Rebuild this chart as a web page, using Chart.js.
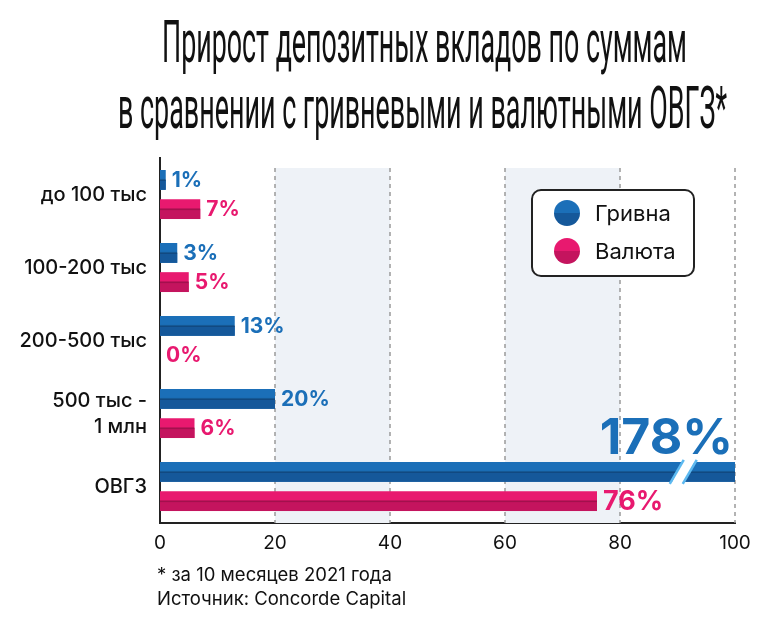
<!DOCTYPE html>
<html>
<head>
<meta charset="utf-8">
<script src="https://cdn.jsdelivr.net/npm/chart.js@4.4.1/dist/chart.umd.min.js"></script>
<style>
  html, body { margin: 0; padding: 0; background: #fff; }
  #wrap { width: 764px; height: 627px; }
</style>
</head>
<body>
<div id="wrap"><canvas id="report1" width="764" height="627"></canvas></div>
<script>
const categories = ['до 100 тыс', '100-200 тыс', '200-500 тыс', ['500 тыс -', '1 млн'], 'ОВГЗ'];
const seriesNames = ['Гривна', 'Валюта'];
const hryvnia = [1, 3, 13, 20, 178];
const currency = [7, 5, 0, 6, 76];
const xTicks = [0, 20, 40, 60, 80, 100];
const titleLines = ['Прирост депозитных вкладов по суммам', 'в сравнении с гривневыми и валютными ОВГЗ*'];
const footLines = ['* за 10 месяцев 2021 года', 'Источник: Concorde Capital'];

const BLUE = '#1b6fb8', BLUE_D = '#15589a';
const PINK = '#e8196f', PINK_D = '#c4145e';
const FONT = 'Inter, "Noto Sans", sans-serif';

// background bands + dashed grid
const bandsPlugin = {
  id: 'bands',
  beforeDatasetsDraw(chart) {
    const {ctx, chartArea: a, scales: {x}} = chart;
    const top = a.top + 10;
    ctx.save();
    ctx.fillStyle = '#eef2f7';
    [[20, 40], [60, 80]].forEach(([f, t]) => {
      const x0 = x.getPixelForValue(f), x1 = x.getPixelForValue(t);
      ctx.fillRect(x0, top, x1 - x0, a.bottom - top);
    });
    ctx.strokeStyle = '#9a9a9a';
    ctx.lineWidth = 1.5;
    ctx.setLineDash([4, 4]);
    xTicks.slice(1).forEach(v => {
      const px = x.getPixelForValue(v);
      ctx.beginPath();
      ctx.moveTo(px, top);
      ctx.lineTo(px, a.bottom);
      ctx.stroke();
    });
    ctx.restore();
  }
};

// two-tone bars, break mark, value labels
const barsPlugin = {
  id: 'barsDeco',
  afterDatasetsDraw(chart) {
    const {ctx, chartArea: a, scales: {x}} = chart;
    const darks = [BLUE_D, PINK_D];
    const cols = [BLUE, PINK];
    ctx.save();
    chart.data.datasets.forEach((ds, di) => {
      const meta = chart.getDatasetMeta(di);
      meta.data.forEach((bar, i) => {
        const p = bar.getProps(['x', 'y', 'base', 'height'], true);
        const xe = Math.min(p.x, a.right);
        const h = p.height;
        // darker lower half
        ctx.fillStyle = darks[di];
        ctx.fillRect(p.base, p.y, xe - p.base, h / 2);
        ctx.fillStyle = 'rgba(0,0,0,0.18)';
        ctx.fillRect(p.base, p.y - 1, xe - p.base, 2);

        const v = ds.data[i];
        ctx.fillStyle = cols[di];
        if (v > x.max) {
          // break mark
          const bx = x.getPixelForValue(91);
          const t = p.y - h / 2 - 4, b = p.y + h / 2 + 4;
          ctx.save();
          ctx.lineCap = 'butt';
          ctx.strokeStyle = '#fff';
          ctx.lineWidth = 11;
          ctx.beginPath(); ctx.moveTo(bx - 7, b); ctx.lineTo(bx + 7, t); ctx.stroke();
          ctx.strokeStyle = '#5db9f0';
          ctx.lineWidth = 2.5;
          [-6.5, 6.5].forEach(o => {
            ctx.beginPath(); ctx.moveTo(bx - 7 + o, b - 2); ctx.lineTo(bx + 7 + o, t + 2); ctx.stroke();
          });
          ctx.restore();
          ctx.fillStyle = cols[di];
          ctx.font = 'bold 50px ' + FONT;
          ctx.textAlign = 'right';
          ctx.textBaseline = 'alphabetic';
          ctx.fillText(v + '%', a.right - 2, p.y - h / 2 - 8);
        } else {
          const big = i === categories.length - 1;
          ctx.font = 'bold ' + (big ? 27 : 21) + 'px ' + FONT;
          ctx.textAlign = 'left';
          ctx.textBaseline = 'middle';
          ctx.fillText(v + '%', xe + 6, p.y + 1);
        }
      });
    });
    ctx.restore();
  }
};

// title, legend, footer
const textPlugin = {
  id: 'texts',
  afterDraw(chart) {
    const {ctx} = chart;
    ctx.save();
    // title, condensed
    ctx.fillStyle = '#111';
    ctx.textBaseline = 'alphabetic';
    ctx.textAlign = 'left';
    ctx.font = '400 60px Roboto, sans-serif';
    const boxes = [[162, 687, 62], [118, 727, 128]];
    titleLines.forEach((t, i) => {
      const [l, r, base] = boxes[i];
      const w = ctx.measureText(t).width;
      ctx.save();
      ctx.translate(l, base);
      ctx.scale((r - l) / w, 1);
      ctx.fillText(t, 0, 0);
      ctx.restore();
    });

    // legend
    const lx = 532, ly = 190, lw = 162, lh = 86;
    ctx.fillStyle = '#fff';
    ctx.strokeStyle = '#222';
    ctx.lineWidth = 2;
    ctx.beginPath();
    ctx.roundRect(lx, ly, lw, lh, 9);
    ctx.fill();
    ctx.stroke();
    const cols = [[BLUE, BLUE_D], [PINK, PINK_D]];
    seriesNames.forEach((n, i) => {
      const cy = ly + 23 + i * 38;
      ctx.save();
      ctx.beginPath();
      ctx.arc(lx + 35, cy, 13, 0, Math.PI * 2);
      ctx.clip();
      ctx.fillStyle = cols[i][0];
      ctx.fillRect(lx + 20, cy - 14, 30, 14);
      ctx.fillStyle = cols[i][1];
      ctx.fillRect(lx + 20, cy, 30, 14);
      ctx.restore();
      ctx.fillStyle = '#111';
      ctx.font = '400 22px ' + FONT;
      ctx.textBaseline = 'middle';
      ctx.fillText(n, lx + 63, cy + 1);
    });

    // footer
    ctx.fillStyle = '#111';
    ctx.font = '400 18.5px ' + FONT;
    ctx.textBaseline = 'alphabetic';
    ctx.fillText(footLines[0], 157, 581);
    ctx.fillText(footLines[1], 157, 605);
    ctx.restore();
  }
};

const ctx = document.getElementById('report1');

new Chart(ctx, {
  type: 'bar',
  data: {
    labels: categories,
    datasets: [
      { label: seriesNames[0], data: hryvnia, backgroundColor: BLUE },
      { label: seriesNames[1], data: currency, backgroundColor: PINK }
    ]
  },
  options: {
    indexAxis: 'y',
    responsive: false,
    animation: false,
    devicePixelRatio: 1,
    clip: 0,
    categoryPercentage: 0.8,
    barPercentage: 0.68,
    layout: { padding: { top: 158, right: 29, bottom: 74, left: 0 } },
    plugins: {
      legend: { display: false },
      tooltip: { enabled: false }
    },
    scales: {
      x: {
        min: 0,
        max: 100,
        afterFit: s => { s.height = 30; },
        afterBuildTicks: s => { s.ticks = xTicks.map(v => ({ value: v })); },
        grid: { display: false, drawTicks: false },
        border: { display: true, color: '#222', width: 2 },
        ticks: { color: '#111', padding: 9, font: { family: FONT, size: 19, weight: 400 } }
      },
      y: {
        afterFit: s => { s.width = 160; },
        grid: { display: false, drawTicks: false },
        border: { display: true, color: '#222', width: 2 },
        ticks: { color: '#111', padding: 13, font: { family: FONT, size: 20, weight: 500, lineHeight: 1.3 } }
      }
    }
  },
  plugins: [bandsPlugin, barsPlugin, textPlugin]
});
</script>
</body>
</html>
